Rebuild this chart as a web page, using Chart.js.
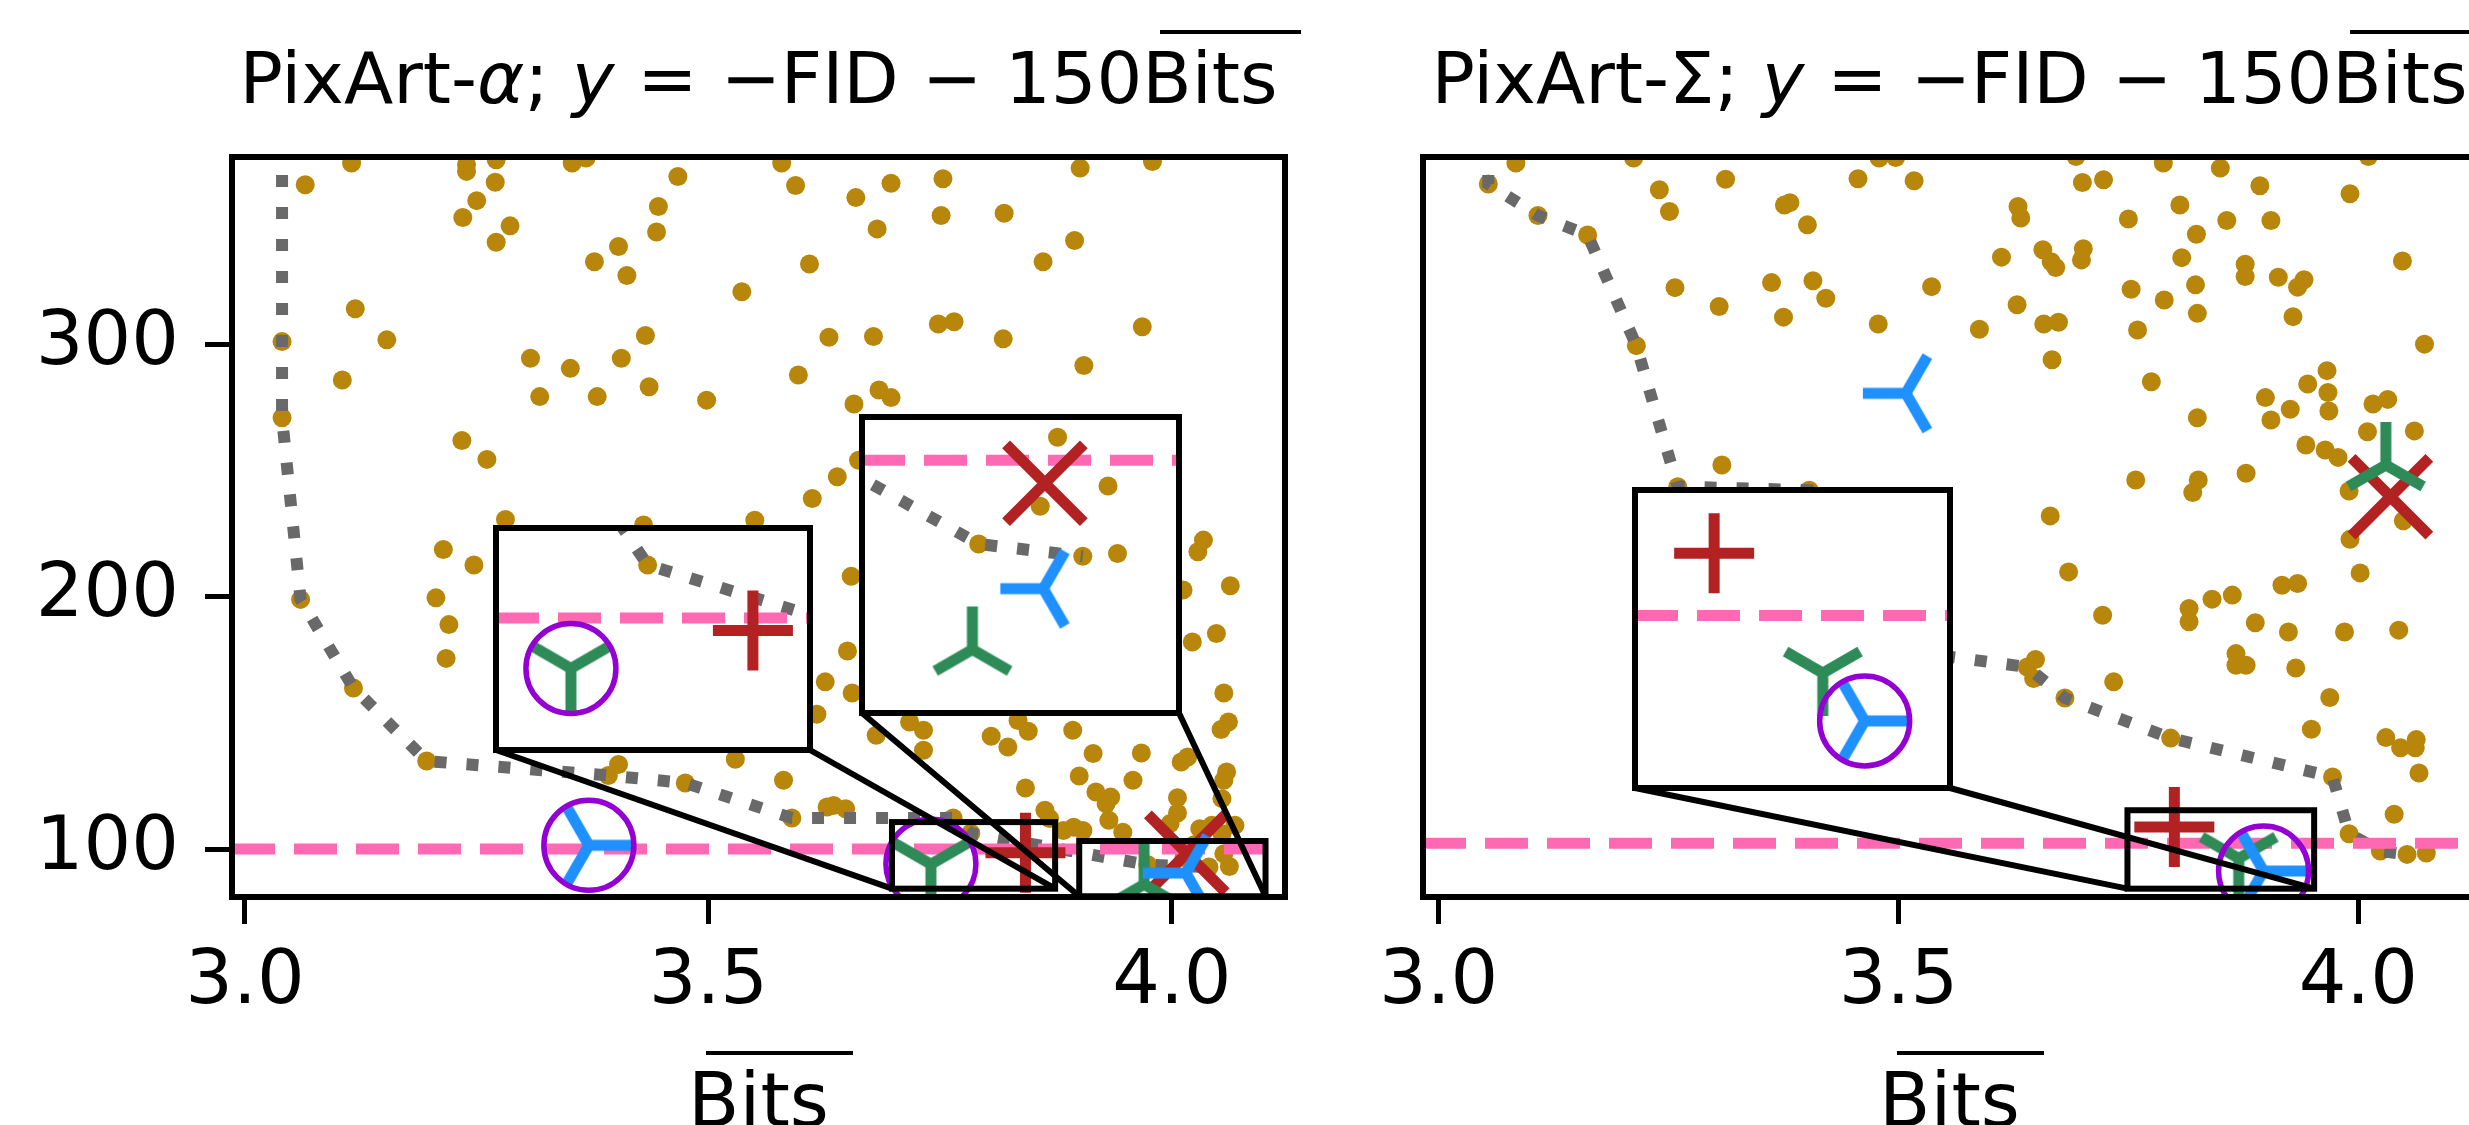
<!DOCTYPE html>
<html>
<head>
<meta charset="utf-8">
<script src="https://cdn.jsdelivr.net/npm/chart.js@4.4.0/dist/chart.umd.min.js"></script>
<style>
  html, body { margin: 0; padding: 0; background: #fff; }
  #stage { position: relative; width: 2469px; height: 1125px; overflow: hidden;
           font-family: "DejaVu Sans", sans-serif; color: #000; }
  #stage canvas { position: absolute; }
  .title { position: absolute; top: 42px; width: 1053px; font-size: 72px; line-height: 1;
           text-align: center; white-space: nowrap; }
  .xlabel { position: absolute; top: 1063px; width: 1053px; font-size: 75px; line-height: 1;
            text-align: center; white-space: nowrap; }
  .bar { display: inline-block; position: relative; }
  .bar::after { content: ""; position: absolute; left: 18px; right: -24px; top: -12px;
                height: 4px; background: #000; }
</style>
</head>
<body>
<div id="stage">
  <div class="title" style="left:232px">PixArt-<i>α</i>; <i>y</i> = −FID − 150<span class="bar">Bits</span></div>
  <div class="title" style="left:1423px">PixArt-Σ; <i>y</i> = −FID − 150<span class="bar">Bits</span></div>
  <div class="xlabel" style="left:232px"><span class="bar">Bits</span></div>
  <div class="xlabel" style="left:1423px"><span class="bar">Bits</span></div>
</div>
<script>
// axes
const alphaXRange = [2.986, 4.122];
const sigmaXRange = [2.983, 4.128];
const yRange = [81, 374.4];
const xTickValues = [3.0, 3.5, 4.0];
const yTickValues = [100, 200, 300];

// reference lines (pink dashed)
const alphaBaseline = 100;
const sigmaBaseline = 102.3;

// PixArt-alpha: sampled configurations (Bits, y)
const alphaCloud = [
  [3.115,372],[3.065,363.4],[3.239,371.3],[3.239,368.7],[3.271,373.3],[3.270,364.4],[3.250,357.1],
  [3.235,350.4],[3.286,347.1],[3.271,340.6],[3.353,372],[3.368,374],[3.467,366.7],[3.446,354.8],
  [3.444,344.7],[3.403,338.9],[3.377,332.9],[3.412,327.4],[3.536,321],[3.119,314.2],[3.153,301.9],
  [3.040,301.2],[3.105,286],[3.040,271],[3.308,294.6],[3.351,290.6],[3.406,294.6],[3.432,303.6],
  [3.318,279.4],[3.380,279.4],[3.436,283.3],[3.498,278],[3.234,262],[3.261,254.5],[3.281,230.7],
  [3.430,228.5],[3.550,230.4],[3.579,372],[3.594,363.1],[3.659,358.3],[3.697,364],[3.753,365.8],
  [3.682,345.9],[3.751,351.2],[3.819,352.1],[3.901,370],[3.979,372.6],[3.895,341.3],[3.861,332.9],
  [3.609,332],[3.630,302.9],[3.678,303.2],[3.748,308.2],[3.765,309.1],[3.818,302.3],[3.968,307.1],
  [3.905,291.7],[3.597,288],[3.684,282],[3.697,279],[3.657,276.5],[3.662,254.2],[3.639,247.6],
  [3.612,239],[3.214,218.8],[3.247,212.6],[3.206,199.6],[3.220,189],[3.217,175.6],[3.060,199],
  [3.117,163.9],[3.196,134.9],[3.392,129.2],[3.403,133.5],[3.475,126.2],[3.529,135.6],[3.654,208.2],
  [3.650,178.5],[3.626,166.3],[3.655,161.9],[3.617,153.5],[4.034,222.5],[4.028,217.9],[4.012,202.7],
  [4.063,204.4],[4.048,185.5],[4.022,182.1],[4.056,161.9],[4.061,150.4],[4.053,147.4],[3.717,150.4],
  [3.732,147.1],[3.681,145.1],[3.732,139.2],[3.805,144.7],[3.823,140.5],[3.834,151],[3.845,146.7],
  [3.893,147.1],[3.915,137.9],[3.967,138.1],[4.010,134.5],[4.017,136.5],[4.059,130.6],[4.056,127.3],
  [3.900,129],[3.958,127.3],[3.842,124.2],[3.918,122.6],[3.934,120.6],[3.929,118],[4.006,120.4],
  [4.006,114.3],[4.054,120],[3.932,111.4],[3.947,106.7],[3.863,115.4],[3.868,112.1],[3.883,107.4],
  [3.894,108.7],[3.904,107.4],[3.998,110.1],[4.030,108.1],[4.043,109.4],[4.068,109.4],[4.054,106.1],
  [3.581,127.3],[3.590,112.3],[3.628,116.7],[3.635,117.3],[3.648,116],[3.764,112.3],[3.783,106.3],
  [4.024,101.7],[4.056,98.1],[4.013,96.6],[3.974,93.8],[4.040,92.9],[4.062,93.1]
];
const alphaFront = [
  [3.040,380],[3.040,271],[3.060,199],[3.117,163.9],[3.196,134.9],[3.392,129.2],[3.475,126.2],
  [3.590,112.3],[3.764,112.3],[3.783,106.3],[3.974,93.8],[4.040,92.9]
];
const alphaPlus = [[3.842, 98.5]];
const alphaCross = [[4.016, 98.3]];
const alphaTriLeft = [[4.015, 90.5]];
const alphaTriRight = [[3.371, 101.5]];
const alphaTriUp = [[3.970, 86.0]];
const alphaTriDown = [[3.740, 94.0]];
const alphaRinged = [[3.371, 101.5], [3.740, 94.0]];

// PixArt-Sigma
const sigmaCloud = [
  [3.084,372],[3.212,374],[3.054,363.7],[3.108,351.2],[3.162,343.5],[3.215,299.6],[3.260,243.7],
  [3.240,361.4],[3.251,352.8],[3.312,365.6],[3.376,355.4],[3.382,356.3],[3.401,347.5],[3.456,365.8],
  [3.479,374],[3.497,374.2],[3.517,365],[3.257,322.6],[3.305,315.1],[3.362,324.6],[3.407,325.3],
  [3.421,318.4],[3.375,310.9],[3.478,308.2],[3.536,323],[3.308,252.3],[3.403,242.3],
  [3.693,374.6],[3.788,372],[3.850,370],[4.011,374.6],[3.700,364.3],[3.723,365.4],[3.893,363],
  [3.991,359.8],[3.630,354.8],[3.633,350.2],[3.750,349.8],[3.806,355.4],[3.857,349.2],[3.905,349.2],
  [3.824,343.8],[3.612,334.7],[3.657,337.6],[3.666,332.9],[3.671,330.6],[3.701,338],[3.699,333.6],
  [3.808,334.5],[3.877,331.9],[3.877,327],[3.913,326.7],[3.941,325.7],[3.934,322.8],[4.048,333.2],
  [3.753,322],[3.789,317.7],[3.823,323.7],[3.825,312.4],[3.929,311.1],[3.629,315.8],[3.658,308.2],
  [3.674,308.9],[3.588,306.1],[3.760,305.8],[4.072,300.2],[3.667,294],[3.775,285.3],[3.966,289.7],
  [3.945,284.4],[3.967,281],[3.968,273.7],[3.899,279],[3.926,274.4],[3.905,270.1],[4.016,276.5],
  [4.032,278.3],[3.825,271],[4.010,265.5],[4.061,265.8],[3.943,260.2],[3.964,258.2],[3.978,255.3],
  [3.878,249],[3.758,246.3],[3.826,246.3],[3.820,241.4],[3.990,242],[3.665,232.1],[4.049,230.2],
  [3.991,222.8],[3.685,209.9],[3.722,192.7],[3.816,195.4],[3.816,190.1],[3.841,199.1],[3.863,200.7],
  [3.917,204.6],[3.934,205.3],[4.002,209.5],[3.888,189.7],[3.924,186.1],[3.985,186.1],[4.044,186.8],
  [3.649,175.2],[3.647,167.6],[3.640,172.2],[3.681,159.9],[3.734,166.3],[3.867,177.5],[3.867,172.9],
  [3.878,172.9],[3.932,171.8],[3.969,160.1],[3.949,147.5],[3.796,144],[3.972,128.6],[4.030,144.2],
  [4.046,140.2],[4.062,140.2],[4.063,143.4],[4.066,130.2],[4.039,113.8],[3.990,106.1],[4.024,99.2],
  [4.053,97.9],[4.074,98.4]
];
const sigmaFront = [
  [3.054,380],[3.054,363.7],[3.108,351.2],[3.162,343.5],[3.215,299.6],[3.260,243.7],[3.403,242.3],
  [3.540,177],[3.640,172.2],[3.681,159.9],[3.796,144],[3.972,128.6],[3.990,106.1],[4.024,99.2],
  [4.053,97.9]
];
const sigmaPlus = [[3.800, 108.8]];
const sigmaCross = [[4.035, 239.7]];
const sigmaTriLeft = [[3.508, 280.7]];
const sigmaTriRight = [[3.897, 91.3]];
const sigmaTriUp = [[4.030, 252.3]];
const sigmaTriDown = [[3.870, 96.3]];
const sigmaRinged = [[3.897, 91.3]];

// zoomed insets: where the inset sits on the page, and the data window it shows
const alphaInsets = [
  { box: [496, 528, 314, 222], x: [3.698, 3.874], y: [84.3, 110.7] },
  { box: [862, 417, 317, 296], x: [3.900, 4.101], y: [81.3, 103.2] }
];
const sigmaInsets = [
  { box: [1635, 490, 315, 298], x: [3.749, 3.952], y: [84.3, 115.4] }
];

const GOLD = '#B8860B', GRAY = '#696969', PINK = '#FF69B4', RED = '#B22222',
      BLUE = '#1E90FF', GREEN = '#2E8B57', PURPLE = '#9400D3';
const EDGE = 6;

Chart.defaults.font.family = 'DejaVu Sans';
Chart.defaults.color = '#000';

// matplotlib-like tri markers as point images
function triImage(color, degs) {
  const arm = 43, lw = 11, s = 2 * (arm + lw);
  const c = document.createElement('canvas');
  c.width = c.height = s;
  const g = c.getContext('2d');
  g.strokeStyle = color;
  g.lineWidth = lw;
  g.beginPath();
  for (const d of degs) {
    const a = d * Math.PI / 180;
    g.moveTo(s / 2, s / 2);
    g.lineTo(s / 2 + arm * Math.cos(a), s / 2 - arm * Math.sin(a));
  }
  g.stroke();
  return c;
}
const triDown = triImage(GREEN, [-90, 150, 30]);
const triUp = triImage(GREEN, [90, 210, 330]);
const triLeft = triImage(BLUE, [180, 60, -60]);
const triRight = triImage(BLUE, [0, 120, 240]);

const pts = a => a.map(([x, y]) => ({ x, y }));

function layers(p, xr) {
  return [
    { data: pts(p.ringed), pointStyle: 'circle', pointRadius: 45, borderWidth: 5.5,
      borderColor: PURPLE, backgroundColor: 'rgba(0,0,0,0)', order: 0 },
    { data: pts(p.triRight), pointStyle: triRight, pointRadius: 45, order: 1 },
    { data: pts(p.triLeft), pointStyle: triLeft, pointRadius: 45, order: 1 },
    { data: pts(p.triUp), pointStyle: triUp, pointRadius: 45, order: 2 },
    { data: pts(p.triDown), pointStyle: triDown, pointRadius: 45, order: 2 },
    { data: pts(p.cross), pointStyle: 'crossRot', pointRadius: 55, borderWidth: 11,
      borderColor: RED, order: 3 },
    { data: pts(p.plus), pointStyle: 'cross', pointRadius: 40, borderWidth: 11,
      borderColor: RED, order: 3 },
    { data: [{ x: xr[0], y: p.base }, { x: xr[1], y: p.base }], showLine: true, pointRadius: 0,
      borderColor: PINK, borderWidth: 11, borderDash: [43, 19], order: 5 },
    { data: pts(p.front), showLine: true, pointRadius: 0, borderColor: GRAY, borderWidth: 12,
      borderDash: [12, 20], order: 6 },
    { data: pts(p.cloud), pointRadius: 9.5, borderWidth: 0, backgroundColor: GOLD, order: 7 }
  ].map(d => Object.assign({ clip: 0, pointHitRadius: 0 }, d));
}

const framePlugin = {
  id: 'frame',
  beforeDatasetsDraw(chart, args, opts) {
    if (!opts.fill) return;
    const a = chart.chartArea, ctx = chart.ctx;
    ctx.save();
    ctx.fillStyle = '#fff';
    ctx.fillRect(a.left, a.top, a.right - a.left, a.bottom - a.top);
    ctx.restore();
  },
  afterDraw(chart) {
    const a = chart.chartArea, ctx = chart.ctx;
    ctx.save();
    ctx.strokeStyle = '#000';
    ctx.lineWidth = EDGE;
    ctx.strokeRect(a.left, a.top, a.right - a.left, a.bottom - a.top);
    ctx.restore();
  }
};

// source rectangles and connector lines for the insets
function linkPlugin(insets, canvasLeft) {
  return {
    id: 'insetLinks',
    afterDatasetsDraw(chart) {
      const { ctx, scales: { x, y } } = chart;
      ctx.save();
      ctx.strokeStyle = '#000';
      ctx.lineWidth = EDGE;
      for (const ins of insets) {
        const l = x.getPixelForValue(ins.x[0]), r = x.getPixelForValue(ins.x[1]);
        const t = y.getPixelForValue(ins.y[1]), b = y.getPixelForValue(ins.y[0]);
        ctx.strokeRect(l, t, r - l, b - t);
        const [bx, by, bw, bh] = ins.box;
        const il = bx - canvasLeft, ib = by + bh;
        ctx.beginPath();
        ctx.moveTo(il, ib); ctx.lineTo(l, b);
        ctx.moveTo(il + bw, ib); ctx.lineTo(r, b);
        ctx.stroke();
      }
      ctx.restore();
    }
  };
}

const stage = document.getElementById('stage');
function addCanvas(left, top, w, h) {
  const c = document.createElement('canvas');
  c.width = w; c.height = h;
  c.style.left = left + 'px'; c.style.top = top + 'px';
  c.style.width = w + 'px'; c.style.height = h + 'px';
  stage.appendChild(c);
  return c;
}

function drawInset(p, ins) {
  const [bx, by, bw, bh] = ins.box;
  const m = 4;
  const canvas = addCanvas(bx - m, by - m, bw + 2 * m, bh + 2 * m);
  new Chart(canvas, {
    type: 'scatter',
    data: { datasets: layers(p, ins.x) },
    options: {
      responsive: false, animation: false, devicePixelRatio: 1, events: [],
      layout: { padding: m, autoPadding: false },
      plugins: { legend: { display: false }, tooltip: { enabled: false }, frame: { fill: true } },
      scales: {
        x: { type: 'linear', display: false, min: ins.x[0], max: ins.x[1] },
        y: { type: 'linear', display: false, min: ins.y[0], max: ins.y[1] }
      }
    },
    plugins: [framePlugin]
  });
}

function drawPanel(p) {
  const canvas = addCanvas(p.canvasLeft, 0, p.canvasWidth, 1125);
  new Chart(canvas, {
    type: 'scatter',
    data: { datasets: layers(p, p.xRange) },
    options: {
      responsive: false, animation: false, devicePixelRatio: 1, events: [],
      layout: { padding: p.padding, autoPadding: false },
      plugins: { legend: { display: false }, tooltip: { enabled: false }, frame: {} },
      scales: {
        x: {
          type: 'linear', min: p.xRange[0], max: p.xRange[1],
          afterBuildTicks: s => { s.ticks = xTickValues.map(v => ({ value: v })); },
          afterFit: s => { s.height = 228; },
          grid: { drawOnChartArea: false, tickLength: 27, tickWidth: 5, tickColor: '#000' },
          border: { display: false },
          ticks: { font: { size: 75 }, color: '#000', padding: 15, maxRotation: 0,
                   callback: v => Number(v).toFixed(1) }
        },
        y: {
          type: 'linear', display: p.showY, min: yRange[0], max: yRange[1],
          afterBuildTicks: s => { s.ticks = yTickValues.map(v => ({ value: v })); },
          afterFit: s => { s.width = p.showY ? 232 : 0; },
          grid: { drawOnChartArea: false, tickLength: 27, tickWidth: 5, tickColor: '#000' },
          border: { display: false },
          ticks: { font: { size: 75 }, color: '#000', padding: 26, callback: v => String(v) }
        }
      }
    },
    plugins: [framePlugin, linkPlugin(p.insets, p.canvasLeft)]
  });
  for (const ins of p.insets) drawInset(p, ins);
}

drawPanel({
  canvasLeft: 0, canvasWidth: 1300, padding: { left: 0, top: 157, right: 15, bottom: 0 },
  showY: true, xRange: alphaXRange, base: alphaBaseline, insets: alphaInsets,
  cloud: alphaCloud, front: alphaFront, plus: alphaPlus, cross: alphaCross,
  triLeft: alphaTriLeft, triRight: alphaTriRight, triUp: alphaTriUp, triDown: alphaTriDown,
  ringed: alphaRinged
});
drawPanel({
  canvasLeft: 1300, canvasWidth: 1200, padding: { left: 123, top: 157, right: 24, bottom: 0 },
  showY: false, xRange: sigmaXRange, base: sigmaBaseline, insets: sigmaInsets,
  cloud: sigmaCloud, front: sigmaFront, plus: sigmaPlus, cross: sigmaCross,
  triLeft: sigmaTriLeft, triRight: sigmaTriRight, triUp: sigmaTriUp, triDown: sigmaTriDown,
  ringed: sigmaRinged
});
</script>
</body>
</html>
